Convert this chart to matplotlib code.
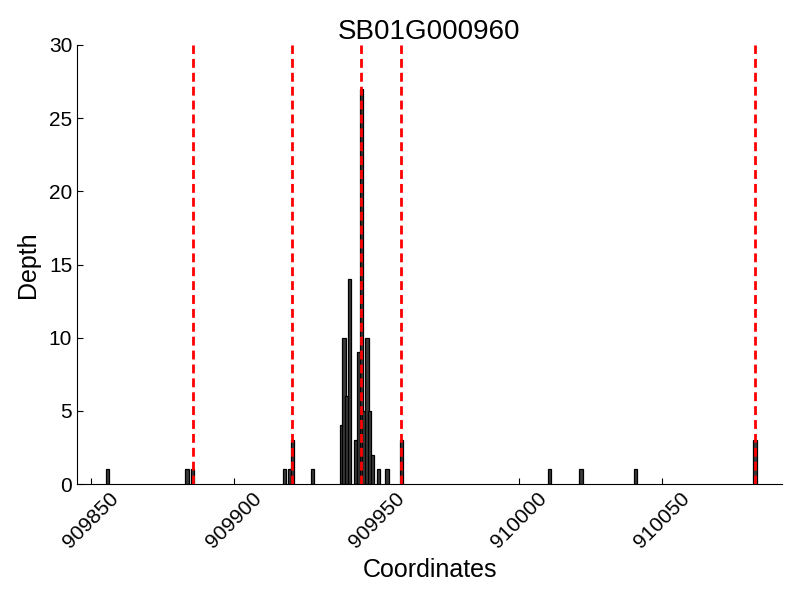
import matplotlib
matplotlib.use("Agg")
import matplotlib.pyplot as plt

plt.rcParams.update({
    "font.family": ["Liberation Sans", "DejaVu Sans"],
    "xtick.direction": "in",
    "ytick.direction": "in",
})

# ── Data ───────────────────────────────────────────────────────────────────────
gene_name = "SB01G000960"
positions = [909855, 909883, 909885, 909917, 909919, 909920, 909927,
             909937, 909938, 909939, 909940, 909942, 909943, 909944,
             909945, 909946, 909947, 909948, 909950, 909953, 909958,
             910010, 910021, 910040, 910082]
depths    = [1, 1, 1, 1, 1, 3, 1,
             4, 10, 6, 14, 3, 9, 27,
             5, 10, 5, 2, 1, 1, 3,
             1, 1, 1, 3]
markers   = [909885.5, 909920.5, 909944.5, 909958.5, 910082.5]
x_range   = (909845, 910092)
y_range   = (0, 30)

fig = plt.figure(figsize=(8, 6), dpi=100)
ax = fig.add_axes([0.09625, 0.1933, 0.88125, 0.7317])

ax.bar(positions, depths, width=1.15, align="edge", color="#3a3a3a",
       edgecolor="black", linewidth=0.9, zorder=2)
for m in markers:
    ax.axvline(m, color="red", lw=2, linestyle=(0, (3.2, 1.8)), zorder=3)

ax.set_xlim(*x_range)
ax.set_ylim(*y_range)
ax.set_xticks([909850, 909900, 909950, 910000, 910050])
ax.set_yticks(range(0, 31, 5))
ax.ticklabel_format(useOffset=False, style="plain", axis="x")

ax.spines["top"].set_visible(False)
ax.spines["right"].set_visible(False)
ax.tick_params(top=False, right=False, labelsize=15, length=4)
for lbl in ax.get_xticklabels():
    lbl.set_rotation(45)
    lbl.set_ha("center")

ax.set_title(gene_name, fontsize=20, pad=2)
ax.set_xlabel("Coordinates", fontsize=18)
ax.set_ylabel("Depth", fontsize=18, labelpad=6)

fig.savefig("out.png", dpi=100)
